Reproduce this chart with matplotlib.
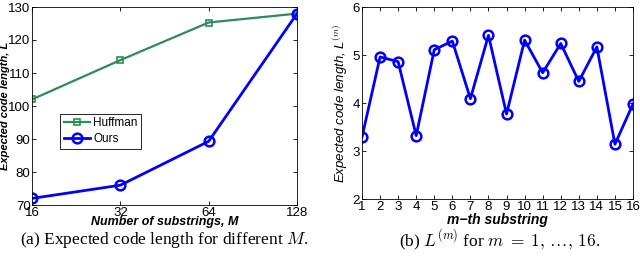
import matplotlib
matplotlib.use('Agg')
import matplotlib.pyplot as plt

# panel (a): expected code length vs number of substrings
num_substrings = [16, 32, 64, 128]
huffman = [102.0, 113.9, 125.3, 128.0]
ours = [72.0, 76.0, 89.3, 128.0]

# panel (b): expected code length per substring
m_index = list(range(1, 17))
l_m = [3.29, 4.96, 4.86, 3.32, 5.11, 5.29, 4.09, 5.41,
       3.77, 5.31, 4.63, 5.24, 4.45, 5.17, 3.14, 3.98]

plt.rcParams['font.family'] = ['Liberation Sans', 'DejaVu Sans']
plt.rcParams['mathtext.fontset'] = 'cm'

fig = plt.figure(figsize=(6.4, 2.58), dpi=100)
ax1 = fig.add_axes([32 / 640, 1 - 205 / 258, 265 / 640, 198 / 258])
ax2 = fig.add_axes([362 / 640, 1 - 199 / 258, 271 / 640, 192 / 258])

for ax in (ax1, ax2):
    ax.tick_params(direction='in', top=True, right=True, labelsize=9.5,
                   length=3, width=0.6, pad=1.5)
    for s in ax.spines.values():
        s.set_linewidth(0.6)
ax1.tick_params(axis='y', pad=1)

# (a)
ax1.plot(num_substrings, huffman, color='#2e8b57', marker='s', ms=5,
         mfc='none', mew=1.2, lw=1.6, label='Huffman')
ax1.plot(num_substrings, ours, color='#0000ff', marker='o', ms=7,
         mfc='none', mew=1.8, lw=2.0, label='Ours')
ax1.set_xscale('log', base=2)
ax1.set_xlim(16, 128)
ax1.set_ylim(70, 130)
ax1.set_xticks(num_substrings)
ax1.set_xticklabels([str(v) for v in num_substrings])
ax1.minorticks_off()
ax1.set_xlabel('Number of substrings, M', fontsize=9, fontweight='bold',
               style='italic', labelpad=-2)
ax1.set_ylabel('Expected code length, L', fontsize=8, fontweight='bold',
               style='italic', labelpad=-1)
ax1.legend(loc='upper left', bbox_to_anchor=(0.085, 0.49), fontsize=8.5,
           frameon=True, fancybox=False, edgecolor='black', framealpha=1,
           handlelength=2.2, borderpad=0.3, labelspacing=0.3,
           handletextpad=0.3).get_frame().set_linewidth(0.6)

# (b)
ax2.plot(m_index, l_m, color='#0000ff', marker='o', ms=7, mfc='none',
         mew=1.8, lw=2.0)
ax2.set_xlim(1, 16)
ax2.set_ylim(2, 6)
ax2.set_xticks(m_index)
ax2.set_yticks([2, 3, 4, 5, 6])
ax2.set_xlabel('m\u2212th substring', fontsize=10, fontweight='bold',
               style='italic', labelpad=0)
ax2.set_ylabel('Expected code length, L$^{(m)}$', fontsize=9.5,
               style='italic', labelpad=2)

fig.text(164 / 640, 1 - 240 / 258,
         '(a) Expected code length for different $M$.',
         ha='center', va='center', fontsize=12.5, family='Liberation Serif')
fig.text(500 / 640, 1 - 240 / 258,
         '(b) $L^{(m)}$ for $m\\;=\\;1,\\,\\ldots,\\,16$.',
         ha='center', va='center', fontsize=12.5, family='Liberation Serif')

fig.savefig('out.png', dpi=100)
